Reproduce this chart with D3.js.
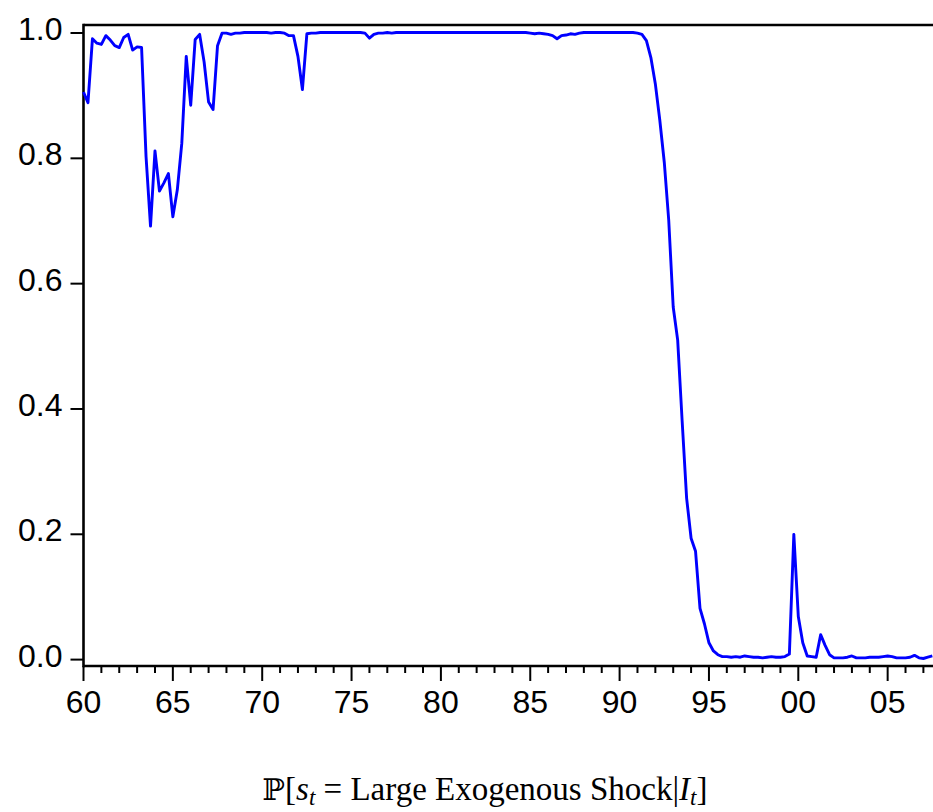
<!DOCTYPE html>
<html>
<head>
<meta charset="utf-8">
<script src="https://cdn.jsdelivr.net/npm/d3@7"></script>
<style>
body { margin: 0; background: #fff; }
svg { display: block; }
</style>
</head>
<body>
<svg id="chart" width="933" height="812"></svg>
<script>
// quarterly probabilities, starting 1960Q1
var startYear = 1960;
var perYear = 4;
var prob = [
  0.905, 0.888, 0.990, 0.983, 0.981, 0.995, 0.988, 0.979, 0.976, 0.992,
  0.997, 0.972, 0.977, 0.976, 0.802, 0.691, 0.811, 0.747, 0.760, 0.775,
  0.706, 0.749, 0.823, 0.962, 0.884, 0.989, 0.997, 0.953, 0.889, 0.877,
  0.979, 0.999, 0.999, 0.997, 0.999, 0.999, 1.000, 1.000, 1.000, 1.000,
  1.000, 1.000, 0.999, 1.000, 1.000, 0.999, 0.995, 0.995, 0.962, 0.909,
  0.998, 0.999, 0.999, 1.000, 1.000, 1.000, 1.000, 1.000, 1.000, 1.000,
  1.000, 1.000, 1.000, 0.999, 0.991, 0.997, 0.999, 0.999, 1.000, 0.999,
  1.000, 1.000, 1.000, 1.000, 1.000, 1.000, 1.000, 1.000, 1.000, 1.000,
  1.000, 1.000, 1.000, 1.000, 1.000, 1.000, 1.000, 1.000, 1.000, 1.000,
  1.000, 1.000, 1.000, 1.000, 1.000, 1.000, 1.000, 1.000, 1.000, 1.000,
  0.999, 0.998, 0.999, 0.998, 0.997, 0.995, 0.990, 0.995, 0.996, 0.998,
  0.997, 0.999, 1.000, 1.000, 1.000, 1.000, 1.000, 1.000, 1.000, 1.000,
  1.000, 1.000, 1.000, 1.000, 0.999, 0.997, 0.987, 0.960, 0.918, 0.860,
  0.793, 0.700, 0.562, 0.509, 0.380, 0.257, 0.193, 0.172, 0.081, 0.056,
  0.026, 0.013, 0.007, 0.004, 0.004, 0.003, 0.004, 0.003, 0.005, 0.004,
  0.003, 0.003, 0.002, 0.003, 0.004, 0.003, 0.003, 0.004, 0.008, 0.199,
  0.068, 0.026, 0.005, 0.004, 0.003, 0.039, 0.022, 0.007, 0.002, 0.002,
  0.002, 0.003, 0.005, 0.002, 0.002, 0.002, 0.003, 0.003, 0.003, 0.004,
  0.005, 0.004, 0.002, 0.002, 0.002, 0.003, 0.006, 0.002, 0.001, 0.003,
  0.005
];
var yTicks = [0.0, 0.2, 0.4, 0.6, 0.8, 1.0];
var xMajor = [1960, 1965, 1970, 1975, 1980, 1985, 1990, 1995, 2000, 2005];

var svg = d3.select("#chart");
var mLeft = 83.5, mTop = 25, mBottom = 666, mRight = 933;

var x = d3.scaleLinear().domain([1960, 2008]).range([mLeft, mLeft + 48 * 17.87]);
var y = d3.scaleLinear().domain([-0.011, 1.012]).range([mBottom, mTop]);

var data = prob.map(function (v, i) {
  return { t: startYear + i / perYear, v: v };
});

// y axis
var yAxis = d3.axisLeft(y).tickValues(yTicks).tickSize(13).tickPadding(8)
  .tickFormat(d3.format(".1f"));
var gy = svg.append("g").attr("transform", "translate(" + mLeft + ",0)").call(yAxis);
gy.select(".domain").remove();
gy.selectAll(".tick line").attr("stroke", "#000").attr("stroke-width", 2);
gy.selectAll(".tick text")
  .attr("font-family", "Liberation Sans, Arial, sans-serif")
  .attr("font-size", 32).attr("fill", "#000")
  .attr("dy", "0.22em");

// x axis: minor ticks every year, labels every 5
var years = d3.range(1960, 2008);
var gx = svg.append("g").attr("transform", "translate(0," + mBottom + ")");
gx.selectAll("line.minor").data(years).enter().append("line")
  .attr("x1", function (d) { return x(d); })
  .attr("x2", function (d) { return x(d); })
  .attr("y1", 0)
  .attr("y2", function (d) { return xMajor.indexOf(d) >= 0 ? 15 : 7; })
  .attr("stroke", "#000").attr("stroke-width", 2);
gx.selectAll("text").data(xMajor).enter().append("text")
  .attr("x", function (d) { return x(d); })
  .attr("y", 47)
  .attr("text-anchor", "middle")
  .attr("font-family", "Liberation Sans, Arial, sans-serif")
  .attr("font-size", 32)
  .text(function (d) { return String(d).slice(2); });

// frame lines
svg.append("line").attr("x1", mLeft).attr("x2", mRight).attr("y1", mTop).attr("y2", mTop)
  .attr("stroke", "#000").attr("stroke-width", 2.6);
svg.append("line").attr("x1", mLeft).attr("x2", mRight).attr("y1", mBottom).attr("y2", mBottom)
  .attr("stroke", "#000").attr("stroke-width", 2.6);
svg.append("line").attr("x1", mLeft).attr("x2", mLeft).attr("y1", mTop - 1.3).attr("y2", mBottom + 1.3)
  .attr("stroke", "#000").attr("stroke-width", 2.6);

// series
var line = d3.line()
  .x(function (d) { return x(d.t); })
  .y(function (d) { return y(d.v); });
svg.append("path").datum(data)
  .attr("d", line)
  .attr("fill", "none")
  .attr("stroke", "#0000ff")
  .attr("stroke-width", 2.9)
  .attr("stroke-linejoin", "round");

// caption
var cap = svg.append("text")
  .attr("x", 485).attr("y", 800)
  .attr("text-anchor", "middle")
  .attr("font-family", "Liberation Serif, DejaVu Serif, serif")
  .attr("font-size", 33).attr("fill", "#000");
cap.append("tspan").attr("font-family", "DejaVu Serif, serif").attr("font-size", 30).text("\u2119");
cap.append("tspan").text("[");
cap.append("tspan").attr("font-style", "italic").text("s");
cap.append("tspan").attr("font-style", "italic").attr("font-size", 23).attr("dy", 5).text("t");
cap.append("tspan").attr("dy", -5).text(" = Large Exogenous Shock|");
cap.append("tspan").attr("font-style", "italic").text("I");
cap.append("tspan").attr("font-style", "italic").attr("font-size", 23).attr("dy", 5).text("t");
cap.append("tspan").attr("dy", -5).text("]");
</script>
</body>
</html>
